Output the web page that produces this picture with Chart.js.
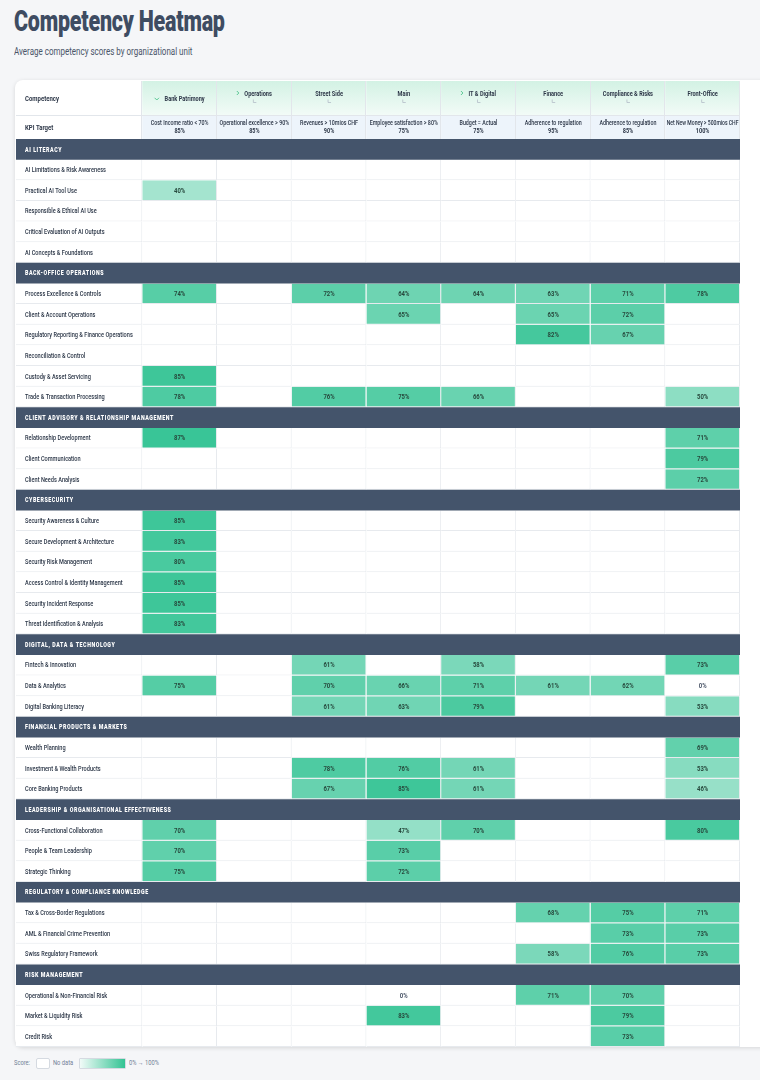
<!DOCTYPE html>
<html>
<head>
<meta charset="utf-8">
<title>Competency Heatmap</title>
<script src="https://cdn.jsdelivr.net/npm/chart.js@4.4.0/dist/chart.umd.min.js"></script>
<style>
  html, body { margin: 0; padding: 0; }
  body {
    width: 760px; height: 1080px; overflow: hidden; position: relative;
    background: #f5f6f8;
    font-family: Roboto, "Noto Sans", sans-serif;
  }
  .sx { position: absolute; margin: 0; white-space: nowrap; transform-origin: 0 0; }
  h1.sx { left: 14px; top: 4px; font-size: 29px; font-weight: 900; color: #3e4c62; letter-spacing: -0.3px; transform: scaleX(0.74); }
  .sub { left: 14px; top: 46px; font-size: 10px; color: #4a5568; transform: scaleX(0.8); }
  .card {
    position: absolute; left: 15px; top: 80px; width: 780px; height: 967px;
    background: #fff; border-radius: 8px; box-shadow: 0 1px 4px rgba(0,0,0,0.13);
  }
  #wrap { position: absolute; left: 16px; top: 81px; width: 724px; height: 966px; }
  .lg { top: 1059px; font-size: 7px; color: #718096; transform: scaleX(0.82); }
  .box { position: absolute; top: 1058px; height: 9px; border: 1px solid #d5dae1; border-radius: 2px; background: #fff; }
</style>
</head>
<body>
<h1 class="sx">Competency Heatmap</h1>
<p class="sx sub">Average competency scores by organizational unit</p>
<div class="card"></div>
<div id="wrap"><canvas id="heatmap" width="724" height="966"></canvas></div>
<span class="sx lg" style="left:14px">Score:</span>
<span class="box" style="left:36px;width:12px"></span>
<span class="sx lg" style="left:53px">No data</span>
<span class="box" id="legendGrad" style="left:79px;width:45px;border-radius:1px"></span>
<span class="sx lg" style="left:129px">0% → 100%</span>
<script>
  const _ = null;

  const UNITS = ["Bank Patrimony", "Operations", "Street Side", "Main", "IT & Digital", "Finance", "Compliance & Risks", "Front-Office"];
  const UNIT_TOGGLES = ["down", "right", "", "", "right", "", "", ""];
  const KPI_LABELS = ["Cost Income ratio < 70%", "Operational excellence > 90%", "Revenues > 10mios CHF", "Employee satisfaction > 80%",
    "Budget = Actual", "Adherence to regulation", "Adherence to regulation", "Net New Money > 500mios CHF"];
  const KPI_TARGETS = ["85%", "85%", "90%", "75%", "75%", "95%", "85%", "100%"];

  // columns: Bank Patrimony, Operations, Street Side, Main, IT & Digital, Finance, Compliance & Risks, Front-Office
  const AI_LITERACY = ["AI Limitations & Risk Awareness", "Practical AI Tool Use", "Responsible & Ethical AI Use",
    "Critical Evaluation of AI Outputs", "AI Concepts & Foundations"];
  const AI_LITERACY_SCORES = [
    [_, _, _, _, _, _, _, _],
    [40, _, _, _, _, _, _, _],
    [_, _, _, _, _, _, _, _],
    [_, _, _, _, _, _, _, _],
    [_, _, _, _, _, _, _, _],
  ];

  const BACK_OFFICE = ["Process Excellence & Controls", "Client & Account Operations", "Regulatory Reporting & Finance Operations",
    "Reconciliation & Control", "Custody & Asset Servicing", "Trade & Transaction Processing"];
  const BACK_OFFICE_SCORES = [
    [74, _, 72, 64, 64, 63, 71, 78],
    [_, _, _, 65, _, 65, 72, _],
    [_, _, _, _, _, 82, 67, _],
    [_, _, _, _, _, _, _, _],
    [85, _, _, _, _, _, _, _],
    [78, _, 76, 75, 66, _, _, 50],
  ];

  const CLIENT_ADVISORY = ["Relationship Development", "Client Communication", "Client Needs Analysis"];
  const CLIENT_ADVISORY_SCORES = [
    [87, _, _, _, _, _, _, 71],
    [_, _, _, _, _, _, _, 79],
    [_, _, _, _, _, _, _, 72],
  ];

  const CYBERSECURITY = ["Security Awareness & Culture", "Secure Development & Architecture", "Security Risk Management",
    "Access Control & Identity Management", "Security Incident Response", "Threat Identification & Analysis"];
  const CYBERSECURITY_SCORES = [
    [85, _, _, _, _, _, _, _],
    [83, _, _, _, _, _, _, _],
    [80, _, _, _, _, _, _, _],
    [85, _, _, _, _, _, _, _],
    [85, _, _, _, _, _, _, _],
    [83, _, _, _, _, _, _, _],
  ];

  const DIGITAL = ["Fintech & Innovation", "Data & Analytics", "Digital Banking Literacy"];
  const DIGITAL_SCORES = [
    [_, _, 61, _, 58, _, _, 73],
    [75, _, 70, 66, 71, 61, 62, 0],
    [_, _, 61, 63, 79, _, _, 53],
  ];

  const FIN_PRODUCTS = ["Wealth Planning", "Investment & Wealth Products", "Core Banking Products"];
  const FIN_PRODUCTS_SCORES = [
    [_, _, _, _, _, _, _, 69],
    [_, _, 78, 76, 61, _, _, 53],
    [_, _, 67, 85, 61, _, _, 46],
  ];

  const LEADERSHIP = ["Cross-Functional Collaboration", "People & Team Leadership", "Strategic Thinking"];
  const LEADERSHIP_SCORES = [
    [70, _, _, 47, 70, _, _, 80],
    [70, _, _, 73, _, _, _, _],
    [75, _, _, 72, _, _, _, _],
  ];

  const REGULATORY = ["Tax & Cross-Border Regulations", "AML & Financial Crime Prevention", "Swiss Regulatory Framework"];
  const REGULATORY_SCORES = [
    [_, _, _, _, _, 68, 75, 71],
    [_, _, _, _, _, _, 73, 73],
    [_, _, _, _, _, 58, 76, 73],
  ];

  const RISK = ["Operational & Non-Financial Risk", "Market & Liquidity Risk", "Credit Risk"];
  const RISK_SCORES = [
    [_, _, _, 0, _, 71, 70, _],
    [_, _, _, 83, _, _, 79, _],
    [_, _, _, _, _, _, 73, _],
  ];

  const SECTIONS = [
    ["AI Literacy", AI_LITERACY, AI_LITERACY_SCORES],
    ["Back-Office Operations", BACK_OFFICE, BACK_OFFICE_SCORES],
    ["Client Advisory & Relationship Management", CLIENT_ADVISORY, CLIENT_ADVISORY_SCORES],
    ["Cybersecurity", CYBERSECURITY, CYBERSECURITY_SCORES],
    ["Digital, Data & Technology", DIGITAL, DIGITAL_SCORES],
    ["Financial Products & Markets", FIN_PRODUCTS, FIN_PRODUCTS_SCORES],
    ["Leadership & Organisational Effectiveness", LEADERSHIP, LEADERSHIP_SCORES],
    ["Regulatory & Compliance Knowledge", REGULATORY, REGULATORY_SCORES],
    ["Risk Management", RISK, RISK_SCORES],
  ];

  const FONT = 'Roboto, "Noto Sans", sans-serif';
  const TEXT_SX = 0.8;         // horizontal squeeze, the original uses a condensed face
  const HEAT_RGB = [16, 185, 129];
  const BAND_COLOR = "#44546b";
  const LINE_COLOR = "#e7eaee";
  const LABEL_COL = 1.69;      // width of the competency column, in unit-column widths
  const HEADER_H = 58;         // two header rows above the body
  const NAME_ROW_H = 34;

  function heat(v) {
    if (v == null) return "#ffffff";
    const a = 0.95 * v / 100;
    const c = HEAT_RGB.map((ch) => Math.round(255 + (ch - 255) * a));
    return `rgb(${c[0]},${c[1]},${c[2]})`;
  }

  document.getElementById("legendGrad").style.background =
    `linear-gradient(to right, ${heat(6)}, ${heat(90)})`;

  // squeezed text, drawn around (x, y); maxW keeps it inside its cell
  function text(ctx, str, x, y, font, color, align, sx, maxW) {
    const s = sx || TEXT_SX;
    ctx.save();
    ctx.font = font;
    ctx.fillStyle = color;
    ctx.textAlign = align;
    ctx.textBaseline = "middle";
    ctx.translate(x, y);
    ctx.scale(s, 1);
    if (maxW) ctx.fillText(str, 0, 0, maxW / s);
    else ctx.fillText(str, 0, 0);
    ctx.restore();
  }

  // flatten sections into one row list
  const rows = [];
  SECTIONS.forEach(([title, names, scores]) => {
    rows.push({ label: title, section: true, scores: null });
    names.forEach((n, i) => rows.push({ label: n, section: false, scores: scores[i] }));
  });

  const cellBorder = { top: 0, left: 0, right: 1, bottom: 1 };

  const datasets = [
    {
      label: "band",
      data: rows.map((r) => (r.section ? [-LABEL_COL, UNITS.length] : null)),
      backgroundColor: BAND_COLOR,
      borderWidth: 0,
    },
    {
      label: "competency",
      data: rows.map((r) => (r.section ? null : [-LABEL_COL, 0])),
      backgroundColor: "#ffffff",
      borderColor: LINE_COLOR,
      borderWidth: cellBorder,
    },
    ...UNITS.map((u, c) => ({
      label: u,
      data: rows.map((r) => (r.section ? null : [c, c + 1])),
      backgroundColor: (ctx) => heat(rows[ctx.dataIndex].scores ? rows[ctx.dataIndex].scores[c] : null),
      borderColor: LINE_COLOR,
      borderWidth: cellBorder,
    })),
  ];

  const cellTextPlugin = {
    id: "cellText",
    afterDatasetsDraw(chart) {
      const ctx = chart.ctx;
      const yScale = chart.scales.y;
      const x0 = chart.scales.x.getPixelForValue(-LABEL_COL);
      UNITS.forEach((u, c) => {
        const meta = chart.getDatasetMeta(c + 2);
        meta.data.forEach((el, i) => {
          const v = rows[i].scores ? rows[i].scores[c] : null;
          if (v == null) return;
          const p = el.getCenterPoint();
          text(ctx, v + "%", p.x, p.y + 0.5, `700 7px ${FONT}`, v === 0 ? "#4a5568" : "#27493d", "center", 0.85);
        });
      });
      rows.forEach((r, i) => {
        const y = yScale.getPixelForValue(i) + 0.5;
        if (r.section) {
          ctx.save();
          ctx.letterSpacing = "0.7px";
          text(ctx, r.label.toUpperCase(), x0 + 9, y, `900 6.8px ${FONT}`, "#ffffff", "left", 0.78);
          ctx.restore();
        } else {
          text(ctx, r.label, x0 + 9, y, `500 7px ${FONT}`, "#2b3647", "left", 0.8);
        }
      });
    },
  };

  const headerPlugin = {
    id: "header",
    afterDraw(chart) {
      const ctx = chart.ctx;
      const x = chart.scales.x;
      const w = chart.width;
      ctx.save();
      const grad = ctx.createLinearGradient(0, 0, 0, NAME_ROW_H);
      grad.addColorStop(0, "#d3f2e4");
      grad.addColorStop(1, "#f2fbf7");
      UNITS.forEach((u, c) => {
        const x0 = x.getPixelForValue(c);
        const x1 = x.getPixelForValue(c + 1);
        const cx = (x0 + x1) / 2;
        ctx.fillStyle = grad;
        ctx.fillRect(x0, 0, x1 - x0, NAME_ROW_H);
        ctx.fillStyle = "#edf4fb";
        ctx.fillRect(x0, NAME_ROW_H, x1 - x0, HEADER_H - NAME_ROW_H);

        // unit name with its toggle, centred as a group
        const toggle = UNIT_TOGGLES[c];
        const hasSub = toggle !== "down";
        const ny = hasSub ? 13.5 : 18;
        const nameFont = `700 7px ${FONT}`;
        ctx.font = nameFont;
        const tw = ctx.measureText(u).width * TEXT_SX;
        const lead = toggle === "down" ? 10 : toggle === "right" ? 7.5 : 0;
        const left = cx - (tw + lead) / 2;
        text(ctx, u, left + lead, ny, nameFont, "#2d3748", "left");

        ctx.strokeStyle = "#4cc38a";
        ctx.lineWidth = 0.9;
        if (toggle === "down") {
          ctx.beginPath();
          ctx.moveTo(left, ny - 1.2);
          ctx.lineTo(left + 2.2, ny + 1);
          ctx.lineTo(left + 4.4, ny - 1.2);
          ctx.stroke();
        } else if (toggle === "right") {
          ctx.beginPath();
          ctx.moveTo(left, ny - 3.5);
          ctx.lineTo(left + 2, ny - 1.5);
          ctx.lineTo(left, ny + 0.5);
          ctx.stroke();
        }
        if (hasSub) {
          ctx.strokeStyle = "#b4bcc8";
          ctx.lineWidth = 0.8;
          ctx.beginPath();
          ctx.moveTo(cx - 1, 18.5);
          ctx.lineTo(cx - 1, 21.5);
          ctx.lineTo(cx + 2, 21.5);
          ctx.stroke();
        }

        // KPI
        const cellW = x1 - x0 - 3;
        text(ctx, KPI_LABELS[c], cx, 42, `500 6.5px ${FONT}`, "#2d3748", "center", 0.82, cellW);
        text(ctx, KPI_TARGETS[c], cx, 50, `700 6.5px ${FONT}`, "#2d3748", "center", 0.85, cellW);
      });

      // left header cells
      text(ctx, "Competency", 9, 18, `700 7.5px ${FONT}`, "#2d3748", "left");
      text(ctx, "KPI Target", 9, 47, `700 7.5px ${FONT}`, "#2d3748", "left");

      // header grid lines
      ctx.strokeStyle = "#e2e6eb";
      ctx.lineWidth = 1;
      ctx.beginPath();
      for (let c = 0; c <= UNITS.length; c++) {
        const px = Math.round(x.getPixelForValue(c)) - 0.5;
        ctx.moveTo(px, 0);
        ctx.lineTo(px, HEADER_H);
      }
      ctx.moveTo(0, NAME_ROW_H + 0.5);
      ctx.lineTo(w, NAME_ROW_H + 0.5);
      ctx.stroke();
      ctx.restore();
    },
  };

  new Chart(document.getElementById("heatmap"), {
    type: "bar",
    data: { labels: rows.map((r) => r.label), datasets },
    options: {
      indexAxis: "y",
      responsive: false,
      animation: false,
      devicePixelRatio: 1,
      layout: { padding: { top: HEADER_H, left: 0, right: 0, bottom: 0 } },
      datasets: {
        bar: { grouped: false, barPercentage: 1, categoryPercentage: 1, borderSkipped: false, inflateAmount: 0 },
      },
      plugins: { legend: { display: false }, tooltip: { enabled: false }, title: { display: false } },
      scales: {
        x: { type: "linear", min: -LABEL_COL, max: UNITS.length, display: false },
        y: {
          type: "category",
          offset: true,
          grid: { display: false, drawTicks: false },
          border: { display: false },
          ticks: { display: false },
          afterFit: (scale) => { scale.width = 0; },
        },
      },
    },
    plugins: [cellTextPlugin, headerPlugin],
  });
</script>
</body>
</html>
